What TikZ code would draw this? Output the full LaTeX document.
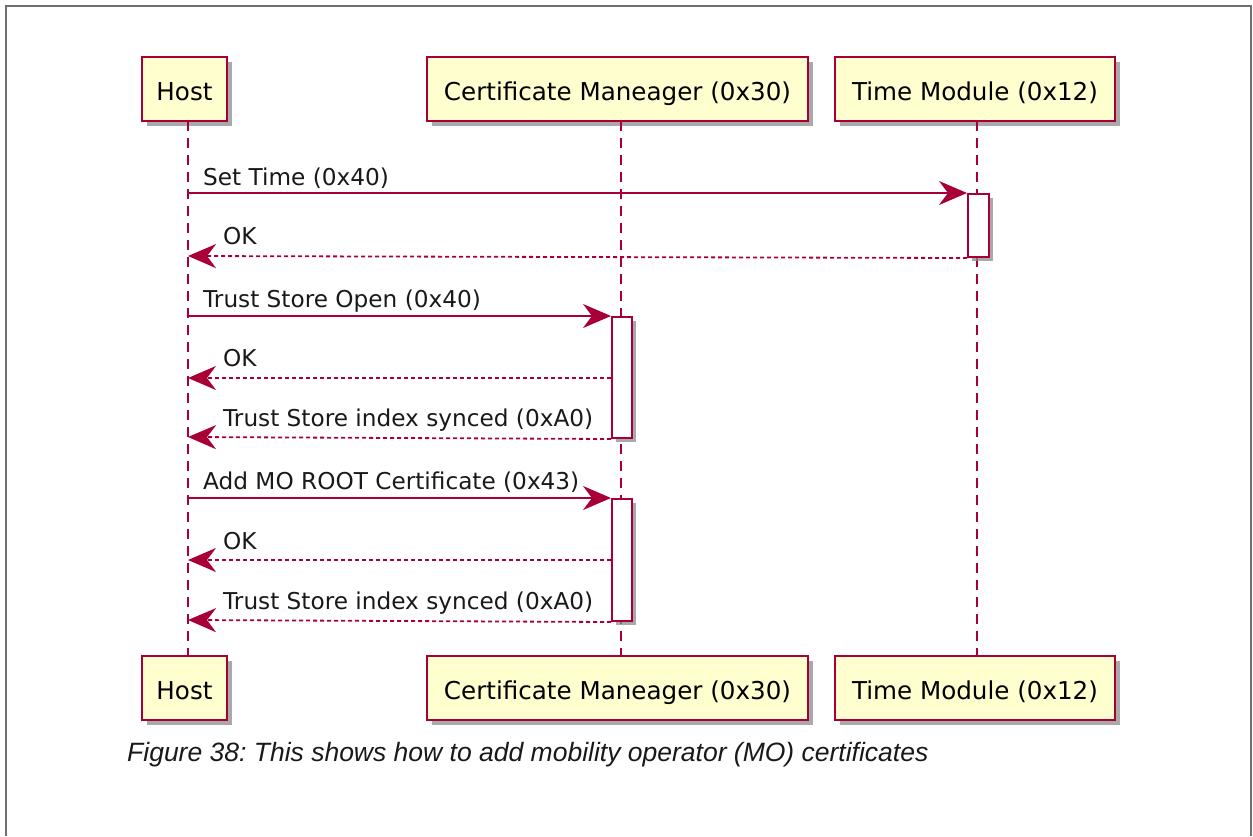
\documentclass[tikz,border=0pt]{standalone}
\usepackage{fontspec}
\setmainfont{DejaVu Sans}
\newfontfamily\capfont{Liberation Sans}
\usetikzlibrary{arrows.meta,shadows}
\definecolor{pred}{HTML}{A80036}
\definecolor{pfill}{HTML}{FEFECE}
\definecolor{frame}{HTML}{707070}
\frenchspacing
\tikzset{
  participant/.style={draw=pred, line width=2.6pt, fill=pfill, inner sep=0pt,
    font=\fontsize{24.6}{28}\selectfont, text height=22pt, text depth=0pt,
    drop shadow={shadow xshift=5pt, shadow yshift=-5pt, fill=black!45, opacity=0.75}},
  actbox/.style={draw=pred, line width=2pt, fill=white, inner sep=0pt,
    drop shadow={shadow xshift=4pt, shadow yshift=-4pt, fill=black!45, opacity=0.75}},
  lifeline/.style={draw=pred, line width=1.8pt, dash pattern=on 10pt off 7pt},
  msg/.style={draw=pred, line width=1.8pt, -{Stealth[length=28pt, width=24pt, inset=9pt]}},
  ret/.style={msg, dash pattern=on 4pt off 3pt},
  msgtext/.style={inner sep=0pt, font=\fontsize{23.2}{26}\selectfont, text=black!90},
}
\begin{document}
\begin{tikzpicture}[x=1pt,y=-1pt]
\useasboundingbox (0,0) rectangle (1253,836);
% outer frame
\draw[frame, line width=2pt] (6,836) -- (6,6) -- (1251,6) -- (1251,836);

% participants (top)
\node[participant, minimum width=85pt, minimum height=64pt] (host) at (184.5,89) {Host};
\node[participant, minimum width=381pt, minimum height=64pt] (cm) at (617.5,89) {Certificate Maneager (0x30)};
\node[participant, minimum width=280pt, minimum height=64pt] (tm) at (975,89) {Time Module (0x12)};
% participants (bottom)
\node[participant, minimum width=85pt, minimum height=64pt] (hostb) at (184.5,688) {Host};
\node[participant, minimum width=381pt, minimum height=64pt] (cmb) at (617.5,688) {Certificate Maneager (0x30)};
\node[participant, minimum width=280pt, minimum height=64pt] (tmb) at (975,688) {Time Module (0x12)};

% lifelines
\coordinate (hT) at (188,121); \coordinate (hB) at (188,656);
\coordinate (cT) at (621,121); \coordinate (cB) at (621,656);
\coordinate (tT) at (977,121); \coordinate (tB) at (977,656);
\draw[lifeline] (hT) -- (hB);
\draw[lifeline] (cT) -- (cB);
\draw[lifeline] (tT) -- (tB);

% activations
\node[actbox, anchor=north west, minimum width=21pt, minimum height=63pt] (act1) at (967,193) {};
\node[actbox, anchor=north west, minimum width=20pt, minimum height=121pt] (act2) at (611,316) {};
\node[actbox, anchor=north west, minimum width=20pt, minimum height=122pt] (act3) at (611,498) {};

% lifeline points
\coordinate (h1) at (188,193);
\coordinate (h2) at (188,256);
\coordinate (h3) at (188,316);
\coordinate (h4) at (188,378);
\coordinate (h5) at (188,437);
\coordinate (h6) at (188,498);
\coordinate (h7) at (188,560);
\coordinate (h8) at (188,620);
\coordinate (c4) at (611,378);
\coordinate (c7) at (611,560);

% messages
\draw[msg] (h1) -- (act1.north west);
\node[msgtext, anchor=base west] (m1) at (203,185) {Set Time (0x40)};
\draw[ret] (act1.south west) -- (h2);
\node[msgtext, anchor=base west] (m2) at (223,244) {OK};

\draw[msg] (h3) -- (act2.north west);
\node[msgtext, anchor=base west] (m3) at (203,307) {Trust Store Open (0x40)};
\draw[ret] (c4) -- (h4);
\node[msgtext, anchor=base west] (m4) at (223,366) {OK};
\draw[ret] (act2.south west) -- (h5);
\node[msgtext, anchor=base west] (m5) at (223,426) {Trust Store index synced (0xA0)};

\draw[msg] (h6) -- (act3.north west);
\node[msgtext, anchor=base west] (m6) at (203,489) {Add MO ROOT Certificate (0x43)};
\draw[ret] (c7) -- (h7);
\node[msgtext, anchor=base west] (m7) at (223,549) {OK};
\draw[ret] (act3.south west) -- (h8);
\node[msgtext, anchor=base west] (m8) at (223,609) {Trust Store index synced (0xA0)};

% caption
\node[inner sep=0pt, anchor=base west, font=\capfont\itshape\fontsize{26.5}{30}\selectfont, text=black!90] (cap) at (127,761)
  {Figure 38: This shows how to add mobility operator (MO) certificates};
\end{tikzpicture}
\end{document}
